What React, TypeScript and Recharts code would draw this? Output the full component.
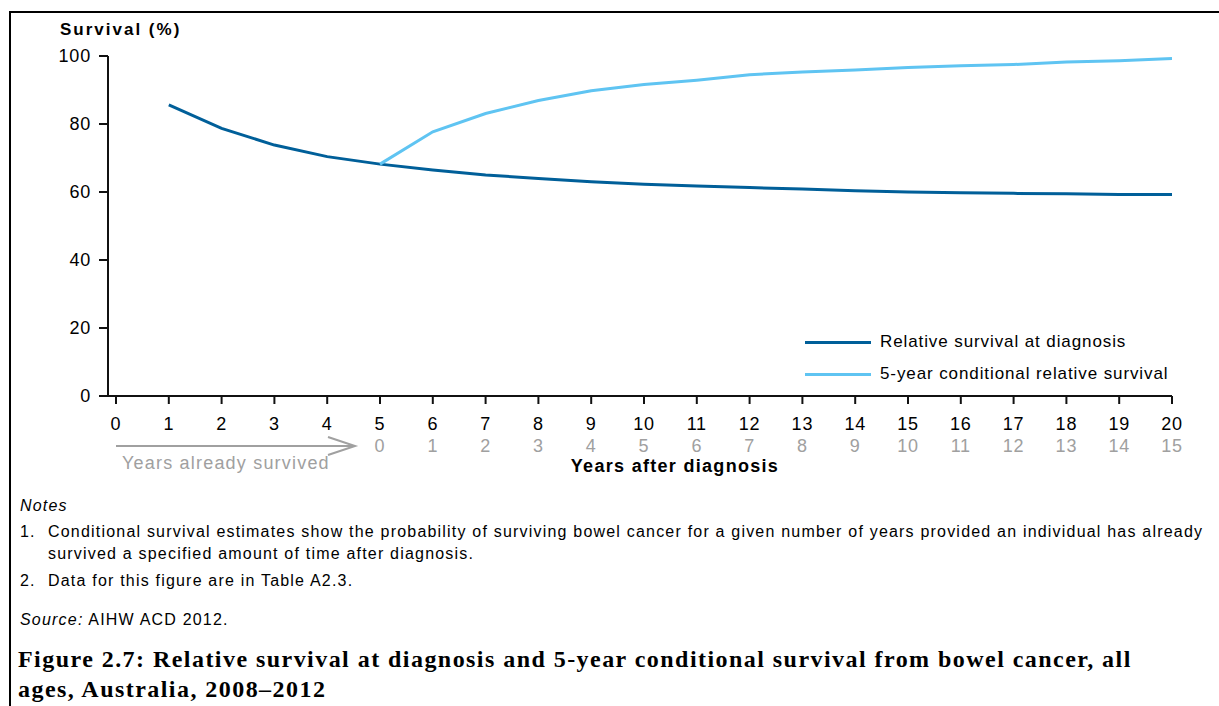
import React from 'react';
import { LineChart, Line, XAxis, YAxis } from 'recharts';

const years = [0, 1, 2, 3, 4, 5, 6, 7, 8, 9, 10, 11, 12, 13, 14, 15, 16, 17, 18, 19, 20];
const relativeSurvival = [null, 85.6, 78.7, 73.8, 70.4, 68.2, 66.5, 65.0, 64.0, 63.0, 62.3, 61.8, 61.3, 60.9, 60.4, 60.0, 59.8, 59.6, 59.5, 59.3, 59.3];
const conditionalSurvival = [null, null, null, null, null, 68.2, 77.7, 83.1, 86.9, 89.8, 91.6, 92.9, 94.5, 95.3, 95.9, 96.6, 97.1, 97.5, 98.2, 98.6, 99.3];
const yTicks = [0, 20, 40, 60, 80, 100];
const seriesNames = ['Relative survival at diagnosis', '5-year conditional relative survival'];

const DARK = '#005f99';
const LIGHT = '#5fc4f2';
const GRAY = '#a0a0a0';
const SANS = '"Liberation Sans", Arial, sans-serif';
const SERIF = '"Liberation Serif", "DejaVu Serif", serif';

const data = years.map((y, i) => ({
  year: y,
  rel: relativeSurvival[i],
  cond: conditionalSurvival[i],
}));

const XTick = (props: any) => {
  const { x, y, payload } = props;
  const v = payload.value as number;
  return (
    <g>
      <text x={x} y={y + 26} textAnchor="middle" fontSize={18} fill="#000" fontFamily={SANS} letterSpacing={0.8}>
        {v}
      </text>
      {v >= 5 && (
        <text x={x} y={y + 48} textAnchor="middle" fontSize={18} fill={GRAY} fontFamily={SANS} letterSpacing={0.8}>
          {v - 5}
        </text>
      )}
    </g>
  );
};

const YTick = (props: any) => {
  const { x, y, payload } = props;
  return (
    <text x={x - 8} y={y + 6} textAnchor="end" fontSize={18} fill="#000" fontFamily={SANS} letterSpacing={0.8}>
      {payload.value}
    </text>
  );
};

export default function App() {
  return (
    <div style={{ position: 'absolute', left: 0, top: 0, width: 1219, height: 706, background: '#fff', overflow: 'hidden' }}>
      <div
        style={{
          position: 'absolute',
          left: 9,
          top: 11,
          width: 1220,
          height: 700,
          borderTop: '2px solid #000',
          borderLeft: '2px solid #000',
        }}
      />
      <div style={{ position: 'absolute', left: 0, top: 0 }}>
        <LineChart width={1219} height={480} data={data} margin={{ top: 56, right: 47, bottom: 0, left: 0 }}>
          <XAxis
            dataKey="year"
            type="number"
            domain={[0, 20]}
            ticks={years}
            interval={0}
            padding={{ left: 8, right: 0 }}
            height={84}
            tickSize={8}
            tickMargin={0}
            tick={<XTick />}
            axisLine={{ stroke: '#111', strokeWidth: 2 }}
            tickLine={{ stroke: '#111', strokeWidth: 2 }}
          />
          <YAxis
            type="number"
            domain={[0, 100]}
            ticks={yTicks}
            width={108}
            tickSize={9}
            tickMargin={0}
            tick={<YTick />}
            axisLine={{ stroke: '#111', strokeWidth: 2 }}
            tickLine={{ stroke: '#111', strokeWidth: 2 }}
          />
          <Line
            type="linear"
            dataKey="rel"
            name={seriesNames[0]}
            stroke={DARK}
            strokeWidth={3}
            dot={false}
            activeDot={false}
            isAnimationActive={false}
          />
          <Line
            type="linear"
            dataKey="cond"
            name={seriesNames[1]}
            stroke={LIGHT}
            strokeWidth={3}
            dot={false}
            activeDot={false}
            isAnimationActive={false}
          />
        </LineChart>
      </div>

      <div style={{ position: 'absolute', left: 805, top: 326, fontFamily: SANS, fontSize: 17, color: '#000' }}>
        {[DARK, LIGHT].map((c, i) => (
          <div key={i} style={{ display: 'flex', alignItems: 'center', height: 32 }}>
            <div style={{ width: 66, height: 3, background: c, marginRight: 9 }} />
            <span style={{ letterSpacing: 0.9, whiteSpace: 'nowrap' }}>{seriesNames[i]}</span>
          </div>
        ))}
      </div>

      <div style={{ position: 'absolute', left: 60, top: 20, fontFamily: SANS, fontSize: 17, fontWeight: 'bold', letterSpacing: 2, whiteSpace: 'nowrap' }}>
        Survival (%)
      </div>

      <svg style={{ position: 'absolute', left: 0, top: 0 }} width={1219} height={490}>
        <line x1={116} y1={446} x2={354} y2={446} stroke={GRAY} strokeWidth={2} />
        <polyline points="328,437 355,446 328,455" fill="none" stroke={GRAY} strokeWidth={2} />
        <text x={122} y={469} fontSize={18} fill={GRAY} fontFamily={SANS} letterSpacing={1.2}>
          Years already survived
        </text>
        <text x={675} y={472} fontSize={18} fontWeight="bold" textAnchor="middle" fill="#000" fontFamily={SANS} letterSpacing={1.3}>
          Years after diagnosis
        </text>
      </svg>

      <div style={{ position: 'absolute', left: 20, top: 497, fontFamily: SANS, fontSize: 16, letterSpacing: 1.2, color: '#000', width: 1199 }}>
        <div style={{ fontStyle: 'italic', height: 22 }}>Notes</div>
        <div style={{ display: 'flex', lineHeight: '22px', marginTop: 2 }}>
          <div style={{ width: 28, flexShrink: 0 }}>1.</div>
          <div>
            Conditional survival estimates show the probability of surviving bowel cancer for a given number of years provided an individual has already survived a specified amount of time after diagnosis.
          </div>
        </div>
        <div style={{ display: 'flex', lineHeight: '22px', marginTop: 5 }}>
          <div style={{ width: 28, flexShrink: 0 }}>2.</div>
          <div>Data for this figure are in Table A2.3.</div>
        </div>
        <div style={{ lineHeight: '22px', marginTop: 17 }}>
          <i>Source:</i> AIHW ACD 2012.
        </div>
      </div>

      <div
        style={{
          position: 'absolute',
          left: 18,
          top: 644,
          width: 1150,
          fontFamily: SERIF,
          fontWeight: 'bold',
          fontSize: 24,
          letterSpacing: 1.45,
          lineHeight: '30px',
          color: '#000',
        }}
      >
        Figure 2.7: Relative survival at diagnosis and 5-year conditional survival from bowel cancer, all ages, Australia, 2008–2012
      </div>
    </div>
  );
}
